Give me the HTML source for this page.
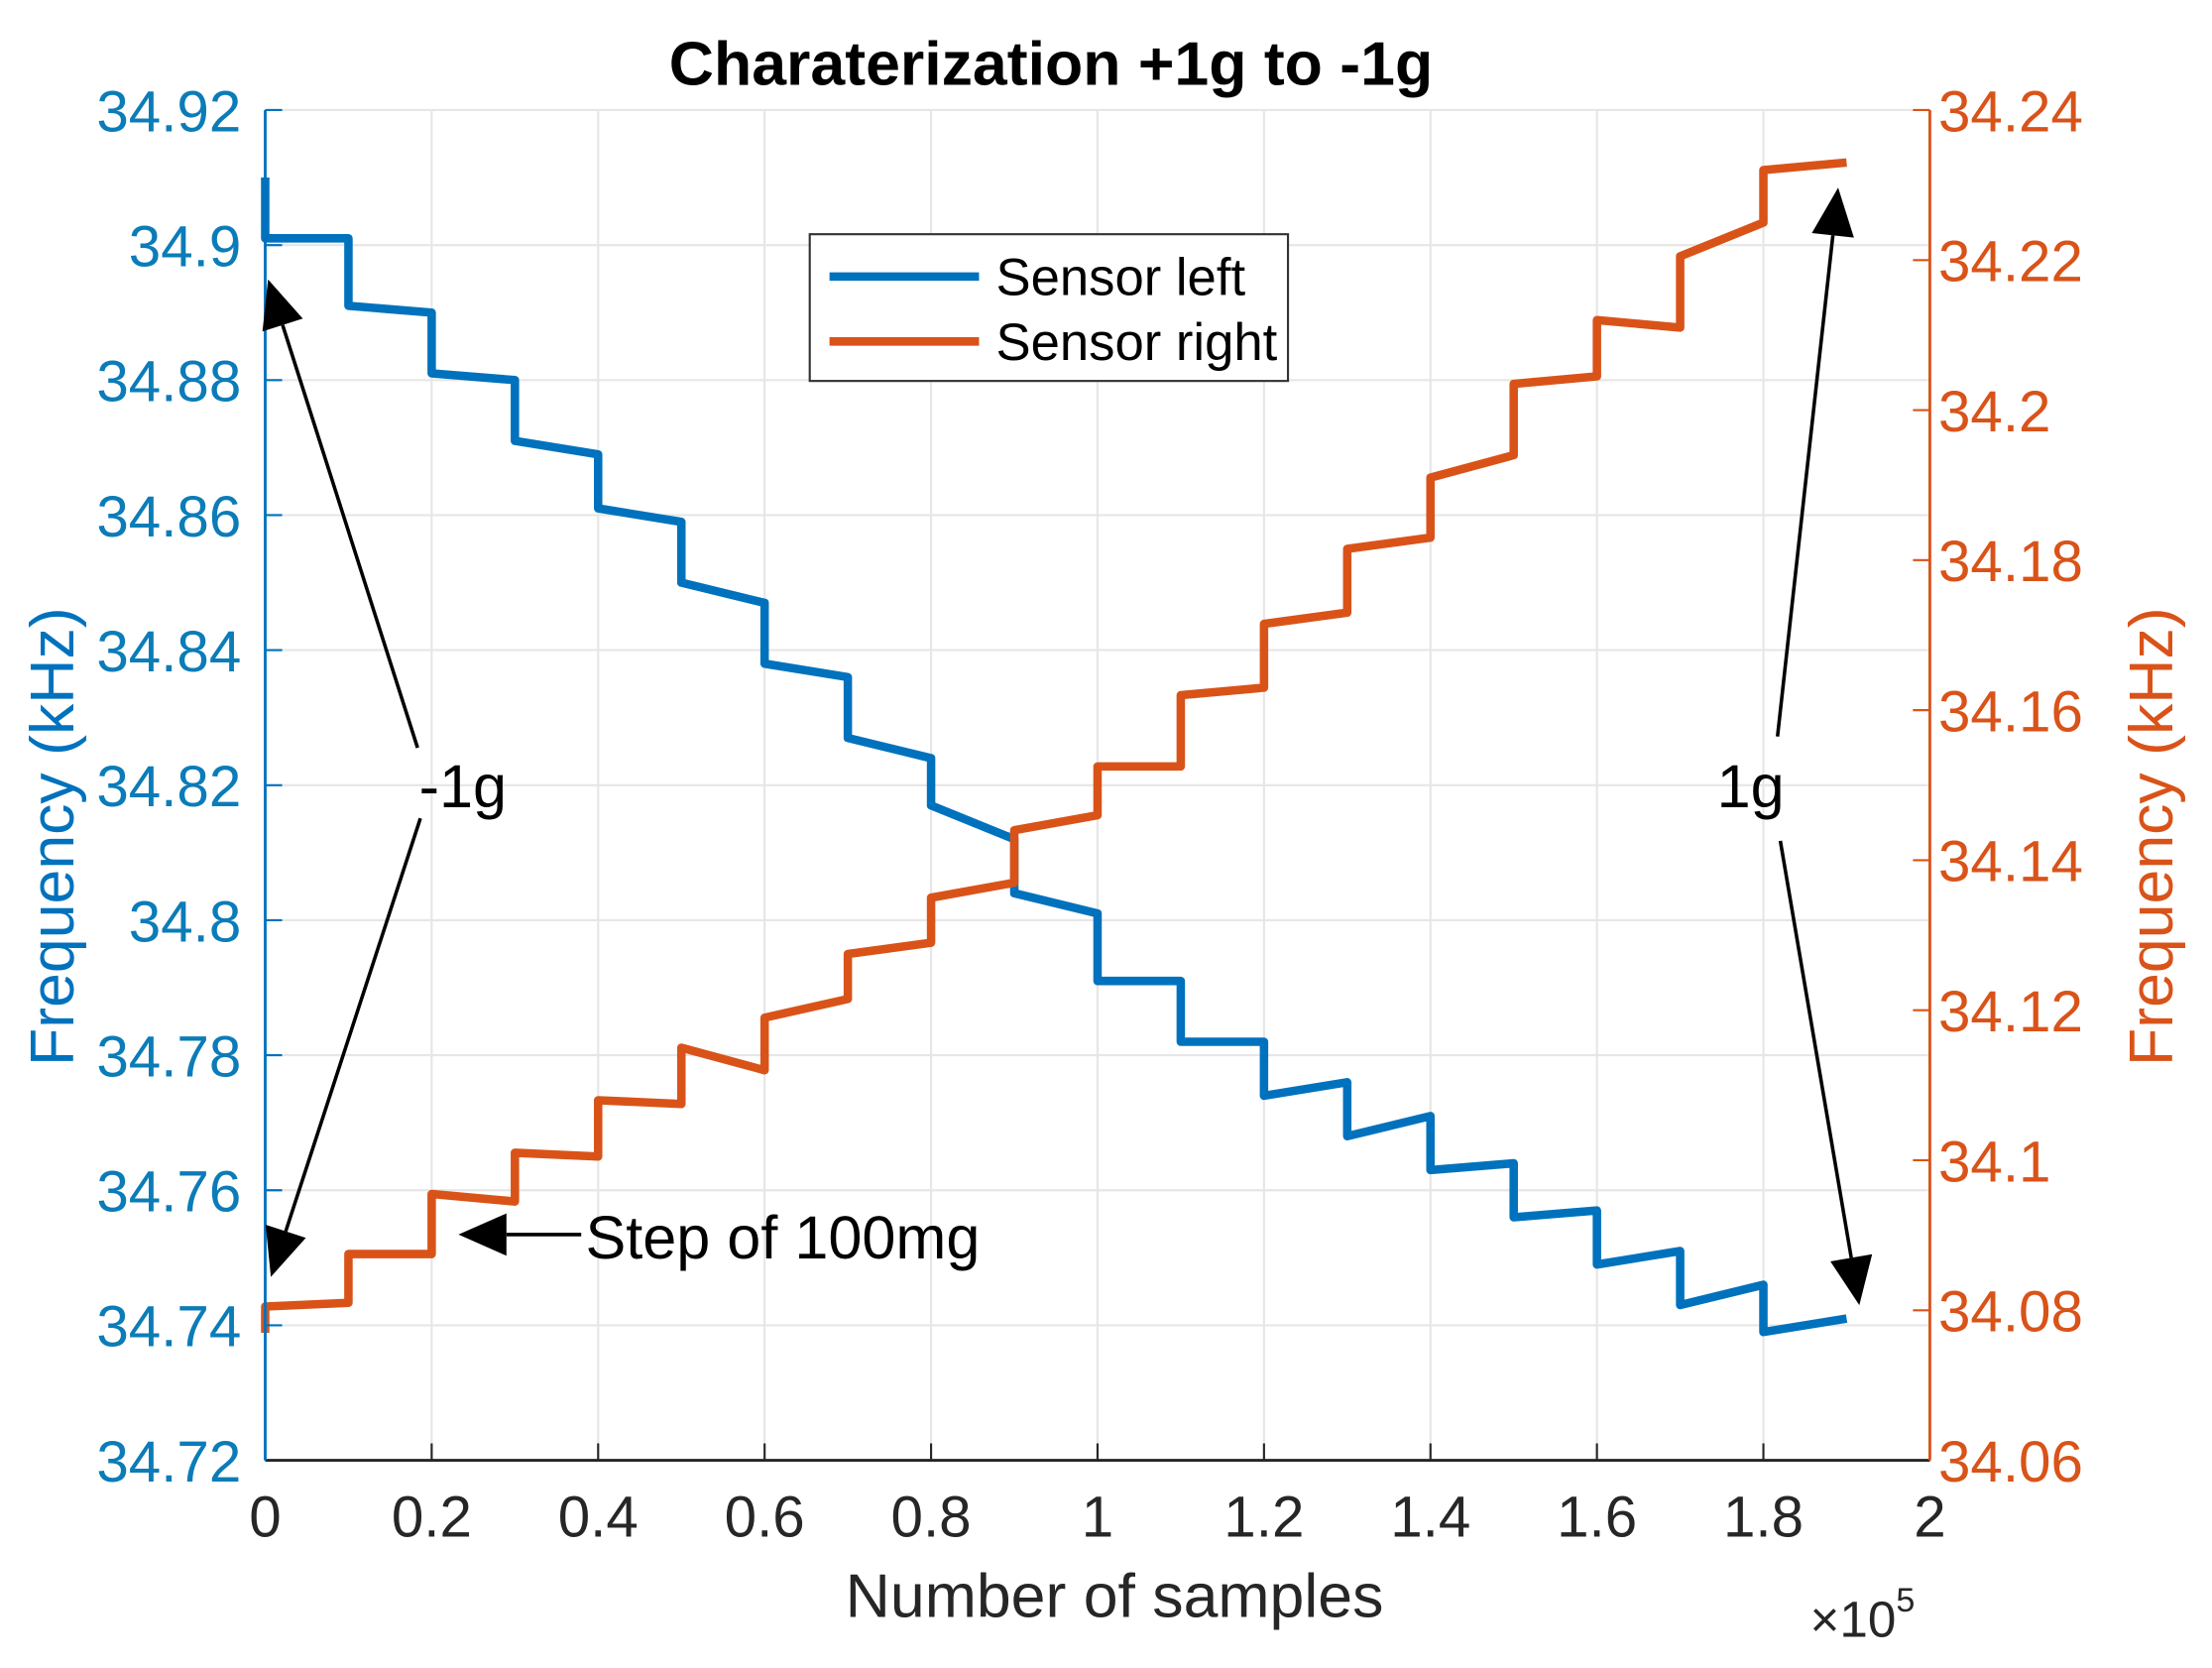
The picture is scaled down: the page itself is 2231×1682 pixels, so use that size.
<!DOCTYPE html>
<html><head><meta charset="utf-8">
<style>
html,body{margin:0;padding:0;background:#fff;}
svg{display:block;}
text{font-family:"Liberation Sans",Arial,sans-serif;}
</style></head>
<body>
<svg id="chart" width="2231" height="1682" viewBox="0 0 1568 1182.2" preserveAspectRatio="none" xmlns="http://www.w3.org/2000/svg">
<rect width="1568" height="1182.2" fill="#fff"/>
<g id="grid"></g>
<g id="series"></g>
<g id="axes"></g>
<text x="745" y="60" text-anchor="middle" font-size="44" font-weight="bold" fill="#000">Charaterization +1g to -1g</text>
<text x="790" y="1146" text-anchor="middle" font-size="44" fill="#262626">Number of samples</text>
<text x="1283" y="1160" font-size="36" fill="#262626">×10<tspan font-size="24" dy="-18">5</tspan></text>
<text transform="translate(52,593) rotate(-90)" text-anchor="middle" font-size="44" fill="#0072BD">Frequency (kHz)</text>
<text transform="translate(1540,593) rotate(-90)" text-anchor="middle" font-size="44" fill="#D95319">Frequency (kHz)</text>
<g>
<rect x="574" y="166" width="339" height="104" fill="#fff" stroke="#333" stroke-width="1.5"/>
<line x1="588" y1="196" x2="694" y2="196" stroke="#0072BD" stroke-width="6"/>
<text x="706" y="209" font-size="37" fill="#000">Sensor left</text>
<line x1="588" y1="242" x2="694" y2="242" stroke="#D95319" stroke-width="6"/>
<text x="706" y="255" font-size="37" fill="#000">Sensor right</text>
</g>
<g id="annotations"></g>
<text x="297" y="572" font-size="43" fill="#000">-1g</text>
<text x="1217" y="572" font-size="43" fill="#000">1g</text>
<text x="415" y="892" font-size="43" fill="#000">Step of 100mg</text>
</svg>
<script>
const xTicks = [0,0.2,0.4,0.6,0.8,1,1.2,1.4,1.6,1.8,2];
const xTickLabels = ["0","0.2","0.4","0.6","0.8","1","1.2","1.4","1.6","1.8","2"];
const yLeftTicks = [34.72,34.74,34.76,34.78,34.8,34.82,34.84,34.86,34.88,34.9,34.92];
const yLeftLabels = ["34.72","34.74","34.76","34.78","34.8","34.82","34.84","34.86","34.88","34.9","34.92"];
const yRightTicks = [34.06,34.08,34.1,34.12,34.14,34.16,34.18,34.2,34.22,34.24];
const yRightLabels = ["34.06","34.08","34.1","34.12","34.14","34.16","34.18","34.2","34.22","34.24"];
const stepStartX = [0,0.1,0.2,0.3,0.4,0.5,0.6,0.7,0.8,0.9,1.0,1.1,1.2,1.3,1.4,1.5,1.6,1.7,1.8];
const stepEndX = [0.1,0.2,0.3,0.4,0.5,0.6,0.7,0.8,0.9,1.0,1.1,1.2,1.3,1.4,1.5,1.6,1.7,1.8,1.9];
const leftStart = [34.901,34.891,34.881,34.871,34.861,34.850,34.838,34.827,34.817,34.804,34.791,34.782,34.774,34.768,34.763,34.756,34.749,34.743,34.739];
const leftEnd   = [34.901,34.890,34.880,34.869,34.859,34.847,34.836,34.824,34.812,34.801,34.791,34.782,34.776,34.771,34.764,34.757,34.751,34.746,34.741];
const rightStart = [34.0805,34.0875,34.0955,34.1010,34.1080,34.1150,34.1190,34.1275,34.1350,34.1440,34.1525,34.1620,34.1715,34.1815,34.1910,34.2035,34.2120,34.2205,34.2320];
const rightEnd   = [34.0810,34.0875,34.0945,34.1005,34.1075,34.1120,34.1215,34.1290,34.1370,34.1460,34.1525,34.1630,34.1730,34.1830,34.1940,34.2045,34.2110,34.2250,34.2330];

const L=188,R=1368,T=78,B=1035;
const NS="http://www.w3.org/2000/svg";
const xS=v=>L+(v-0)/(2-0)*(R-L);
const yL=v=>B-(v-34.72)/(34.92-34.72)*(B-T);
const yR=v=>B-(v-34.06)/(34.24-34.06)*(B-T);
function mk(tag,attrs,parent){const e=document.createElementNS(NS,tag);for(const k in attrs)e.setAttribute(k,attrs[k]);parent.appendChild(e);return e;}
const grid=document.getElementById('grid'),axes=document.getElementById('axes'),series=document.getElementById('series'),ann=document.getElementById('annotations');

xTicks.forEach((t,i)=>{
  const g=mk('line',{x1:xS(t),x2:xS(t),y1:T,y2:B,stroke:'#e6e6e6','stroke-width':1.5},grid);
  
  
  const tk=mk('line',{x1:xS(t),x2:xS(t),y1:B,y2:B-12,stroke:'#262626','stroke-width':1.5},axes);
  
  
  const tx=mk('text',{x:xS(t),y:B+54,'text-anchor':'middle','font-size':41,fill:'#262626'},axes);
  tx.textContent=xTickLabels[i];
  
  
});
yLeftTicks.forEach((t,i)=>{
  const g=mk('line',{x1:L,x2:R,y1:yL(t),y2:yL(t),stroke:'#e6e6e6','stroke-width':1.5},grid);
  
  
  const tk=mk('line',{x1:L,x2:L+12,y1:yL(t),y2:yL(t),stroke:'#0072BD','stroke-width':1.5},axes);
  
  
  const tx=mk('text',{x:L-17,y:yL(t)+15,'text-anchor':'end','font-size':41,fill:'#0b7cb8'},axes);
  tx.textContent=yLeftLabels[i];
  
  
});
yRightTicks.forEach((t,i)=>{
  const tk=mk('line',{x1:R,x2:R-12,y1:yR(t),y2:yR(t),stroke:'#D95319','stroke-width':1.5},axes);
  
  
  const tx=mk('text',{x:R+6,y:yR(t)+15,'font-size':41,fill:'#D95319'},axes);
  tx.textContent=yRightLabels[i];
  
  
});
const ax1=mk('line',{x1:L,x2:R,y1:B,y2:B,stroke:'#262626','stroke-width':2},axes);


const ax2=mk('line',{x1:L,x2:L,y1:T,y2:B,stroke:'#0072BD','stroke-width':2},axes);


const ax3=mk('line',{x1:R,x2:R,y1:T,y2:B,stroke:'#D95319','stroke-width':2},axes);



function build(starts,ends,yf){
  let d='';
  stepStartX.forEach((x,i)=>{
    d+=(i===0?'M':'L')+xS(x)+','+yf(starts[i])+' L'+xS(stepEndX[i])+','+yf(ends[i])+' ';
  });
  return d;
}
const pl=mk('path',{d:'M'+xS(0)+','+yL(34.910)+' '+build(leftStart,leftEnd,yL).replace(/^M/,'L'),fill:'none',stroke:'#0072BD','stroke-width':6,'stroke-linejoin':'round'},series);


const pr=mk('path',{d:'M'+xS(0)+','+yR(34.077)+' '+build(rightStart,rightEnd,yR).replace(/^M/,'L'),fill:'none',stroke:'#D95319','stroke-width':6,'stroke-linejoin':'round'},series);



function arrow(x1,y1,x2,y2,name){
  const g=mk('g',{},ann);
  
  
  const dx=x2-x1,dy=y2-y1,len=Math.hypot(dx,dy),ux=dx/len,uy=dy/len,hl=34,hw=15;
  const bx=x2-ux*hl,by=y2-uy*hl;
  mk('line',{x1:x1,y1:y1,x2:bx,y2:by,stroke:'#000','stroke-width':2.5},g);
  mk('polygon',{points:`${x2},${y2} ${bx-uy*hw},${by+ux*hw} ${bx+uy*hw},${by-ux*hw}`,fill:'#000'},g);
}
arrow(296,530,190,198,'arrow-minus-1g-left');
arrow(298,580,192,905,'arrow-minus-1g-right');
arrow(1260,522,1303,133,'arrow-1g-right');
arrow(1262,596,1318,925,'arrow-1g-left');
arrow(412,875,325,875,'arrow-step');
</script>
</body></html>
